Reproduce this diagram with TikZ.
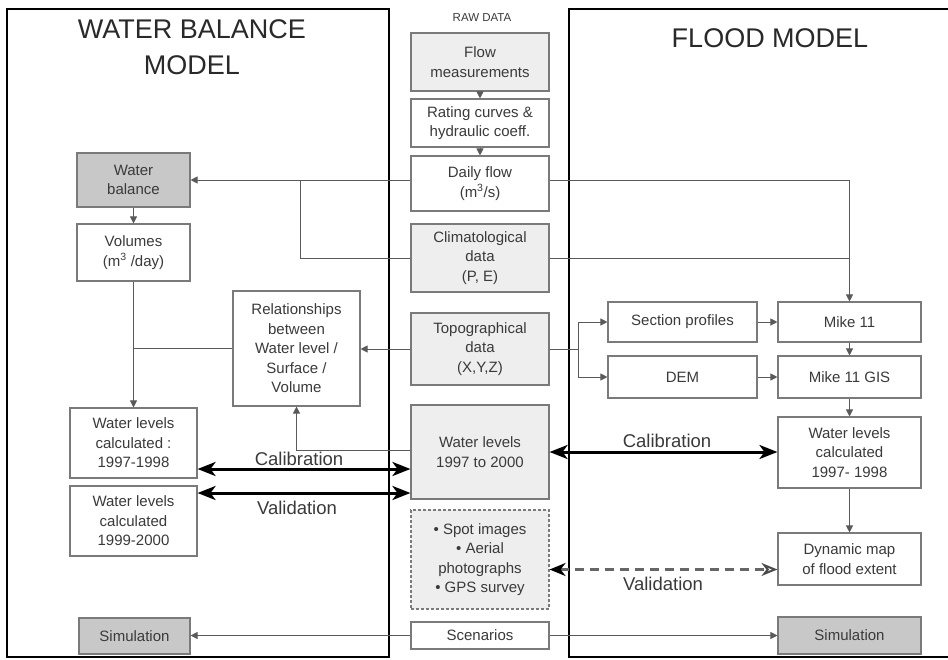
\documentclass[tikz,border=0pt]{standalone}
\usepackage{fontspec}
\newfontfamily\lsans{Liberation Sans}
\usetikzlibrary{arrows.meta}
\definecolor{txt}{HTML}{3A3A3A}
\definecolor{bord}{HTML}{7A7A7A}
\definecolor{lgray}{HTML}{EEEEEE}
\definecolor{dgray}{HTML}{C8C8C8}
\definecolor{conn}{HTML}{5A5A5A}
\begin{document}
\begin{tikzpicture}[x=1pt,y=-1pt,
  box/.style={draw=bord, line width=1.1pt, align=center, text=txt, inner sep=0pt,
    font=\lsans\fontsize{15}{19.5}\selectfont},
  raw/.style={box, fill=lgray},
  res/.style={box, fill=dgray},
  conline/.style={draw=conn, line width=1pt},
  arr/.style={conline, -{Triangle[length=7pt,width=7pt]}},
  big/.style={line width=3pt, black, {Stealth[length=18pt,width=14pt,inset=5pt]}-{Stealth[length=18pt,width=14pt,inset=5pt]}},
  panel/.style={line width=2.2pt, black},
  lbl/.style={font=\lsans\fontsize{18.5}{20}\selectfont, text=txt},
  ttl/.style={font=\lsans\fontsize{27}{36}\selectfont, text=txt!70!black, align=center}]
\useasboundingbox (0,0) rectangle (948,659);
\fill[white] (0,0) rectangle (948,659);
% panels
\draw[panel] (7,9) rectangle (389,657);
\draw[panel] (952,9) -- (569,9) -- (569,657) -- (952,657);
\node[ttl] (t1) at (192,47) {WATER BALANCE\\MODEL};
\node[ttl] (t2) at (770,38) {FLOOD MODEL};
\node[font=\lsans\fontsize{11.5}{12}\selectfont, text=txt] (rawt) at (482,18) {RAW DATA};
% middle column
\node[raw, minimum width=138pt, minimum height=58pt] (fm) at (480,62) {Flow\\measurements};
\node[box, minimum width=138pt, minimum height=48pt] (rc) at (480,123) {Rating curves \&\\hydraulic coeff.};
\node[box, minimum width=138pt, minimum height=55pt] (df) at (480,183.5) {Daily flow\\(m\textsuperscript{3}/s)};
\node[raw, minimum width=138pt, minimum height=68pt] (cl) at (480,258) {Climatological\\data\\(P, E)};
\node[raw, minimum width=138pt, minimum height=72pt] (tp) at (480,349) {Topographical\\data\\(X,Y,Z)};
\node[raw, minimum width=138pt, minimum height=94pt] (wl) at (480,452) {Water levels\\1997 to 2000};
\node[raw, dashed, dash pattern=on 3pt off 2pt, minimum width=138pt, minimum height=99pt] (sp) at (480,559.5) {\textbullet{} Spot images\\\textbullet{} Aerial\\photographs\\\textbullet{} GPS survey};
\node[box, minimum width=138pt, minimum height=27pt] (sc) at (480,635.5) {Scenarios};
% left column
\node[res, minimum width=113pt, minimum height=54pt] (wb) at (133.5,180) {Water\\balance};
\node[box, minimum width=113pt, minimum height=57pt] (vol) at (133.5,252.5) {Volumes\\(m\textsuperscript{3} /day)};
\node[box, minimum width=127pt, minimum height=115pt] (rel) at (296.5,348.5) {Relationships\\between\\Water level /\\Surface /\\Volume};
\node[box, minimum width=127pt, minimum height=70pt] (wlc1) at (133.5,443) {Water levels\\calculated :\\1997-1998};
\node[box, minimum width=127pt, minimum height=70pt] (wlc2) at (133.5,521) {Water levels\\calculated\\1999-2000};
\node[res, minimum width=111pt, minimum height=36pt] (simL) at (134.5,636) {Simulation};
% right column
\node[box, minimum width=149pt, minimum height=40pt] (secp) at (682.5,322) {Section profiles};
\node[box, minimum width=149pt, minimum height=42pt] (dem) at (682.5,377) {DEM};
\node[box, minimum width=143pt, minimum height=40pt] (mike) at (849.5,322) {Mike 11};
\node[box, minimum width=143pt, minimum height=42pt] (mgis) at (849.5,377) {Mike 11 GIS};
\node[box, minimum width=143pt, minimum height=71pt] (wlcR) at (849.5,452.5) {Water levels\\calculated\\1997- 1998};
\node[box, minimum width=143pt, minimum height=52pt] (dyn) at (849.5,559) {Dynamic map\\of flood extent};
\node[res, minimum width=143pt, minimum height=37pt] (simR) at (849.5,635.5) {Simulation};
% connectors middle
\draw[arr] (fm.south) -- (rc.north);
\draw[arr] (rc.south) -- (df.north);
\draw[arr] (df.west |- wb.east) -- (wb.east);
\draw[arr] (df.east |- wb.east) -| (mike.north);
\coordinate (cj) at (300,180);
\draw[conline] (cl.west) -| (cj);
\draw[conline] (cl.east) -- (cl.east -| mike.north);
% left
\draw[arr] (wb.south) -- (vol.north);
\draw[arr] (vol.south) -- (wlc1.north);
\draw[conline] (rel.west) -- (rel.west -| vol.south);
\draw[arr] (tp.west) -- (tp.west -| rel.east);
\draw[arr] ([yshift=2pt]wl.west) -| (rel.south);
% right
\coordinate (fk) at (578,349);
\draw[conline] (tp.east) -- (fk);
\draw[arr] (fk) |- (secp.west);
\draw[arr] (fk) |- (dem.west);
\draw[arr] (secp.east) -- (mike.west);
\draw[arr] (dem.east) -- (mgis.west);
\draw[arr] (mike.south) -- (mgis.north);
\draw[arr] (mgis.south) -- (wlcR.north);
\draw[arr] (wlcR.south) -- (dyn.north);
% scenarios
\draw[arr] (sc.west) -- (sc.west -| simL.east);
\draw[arr] (sc.east) -- (sc.east -| simR.west);
% calibration / validation
\draw[big] ([yshift=-26pt]wlc1.east) -- ([yshift=-26pt]wlc1.east -| wl.west);
\draw[big] ([yshift=28pt]wlc2.east) -- ([yshift=28pt]wlc2.east -| wl.west);
\draw[big] (wl.east) -- (wl.east -| wlcR.west);
\draw[line width=2.6pt, draw=black!60, dash pattern=on 9pt off 6pt,
  {Stealth[length=16pt,width=13pt,inset=5pt,black]}-{Stealth[length=16pt,width=13pt,inset=5pt,open,black!70,line width=2pt]}]
  ([yshift=-10pt]sp.east) -- ([yshift=-10pt]sp.east -| dyn.west);
\node[lbl] (c1) at (299,459) {Calibration};
\node[lbl] (v1) at (297,508) {Validation};
\node[lbl] (c2) at (667,441) {Calibration};
\node[lbl] (v2) at (663,584) {Validation};
\end{tikzpicture}
\end{document}
